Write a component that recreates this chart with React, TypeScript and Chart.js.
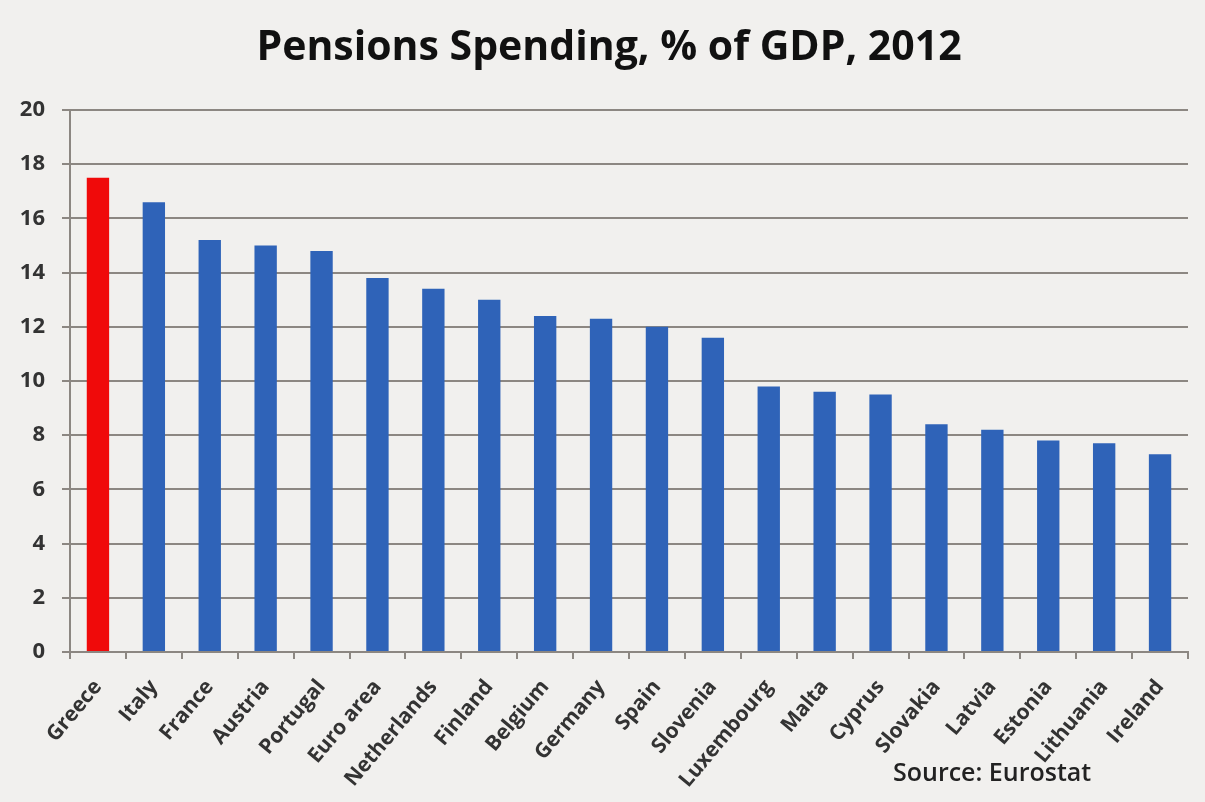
import React, { useEffect, useRef } from "react";
import { Chart, registerables } from "chart.js";

Chart.register(...registerables);

const countries = [
  "Greece", "Italy", "France", "Austria", "Portugal", "Euro area", "Netherlands",
  "Finland", "Belgium", "Germany", "Spain", "Slovenia", "Luxembourg", "Malta",
  "Cyprus", "Slovakia", "Latvia", "Estonia", "Lithuania", "Ireland",
];
const pensionSpending = [
  17.5, 16.6, 15.2, 15.0, 14.8, 13.8, 13.4, 13.0, 12.4, 12.3, 12.0, 11.6, 9.8, 9.6,
  9.5, 8.4, 8.2, 7.8, 7.7, 7.3,
];
const highlighted = "Greece";
const titleText = "Pensions Spending, % of GDP, 2012";
const sourceText = "Source: Eurostat";

const BG = "#f1f0ee";
const FONT = "'Open Sans', 'Noto Sans', sans-serif";
const AXIS = "#8c8782";

export default function App() {
  const ref = useRef<HTMLCanvasElement | null>(null);

  useEffect(() => {
    document.body.style.margin = "0";
    document.body.style.background = BG;
    if (!ref.current) return;
    const chart = new Chart(ref.current, {
      type: "bar",
      data: {
        labels: countries,
        datasets: [
          {
            data: pensionSpending,
            backgroundColor: countries.map((c) => (c === highlighted ? "#f00a0a" : "#2f63b8")),
            borderWidth: 0,
            barPercentage: 0.4,
            categoryPercentage: 1,
          },
        ],
      },
      options: {
        animation: false,
        responsive: false,
        maintainAspectRatio: false,
        layout: { padding: { left: 0, right: 17, top: 110, bottom: 0 } },
        plugins: {
          legend: { display: false },
          tooltip: { enabled: false },
          title: { display: false },
        },
        scales: {
          y: {
            min: 0,
            max: 20,
            afterFit: (scale: any) => {
              scale.width = 70;
            },
            ticks: {
              stepSize: 2,
              color: "#333333",
              font: { family: FONT, size: 22, weight: "bold" },
              padding: 17,
            },
            grid: {
              color: AXIS,
              lineWidth: 2,
              tickLength: 8,
              drawTicks: true,
            },
            border: { display: true, color: AXIS, width: 2 },
          },
          x: {
            offset: true,
            afterFit: (scale: any) => {
              scale.height = 150;
            },
            ticks: {
              color: "#333333",
              font: { family: FONT, size: 21, weight: "bold" },
              minRotation: 50,
              maxRotation: 50,
              autoSkip: false,
              padding: 16,
            },
            grid: {
              offset: true,
              drawOnChartArea: false,
              drawTicks: true,
              tickLength: 7,
              color: AXIS,
              lineWidth: 2,
            },
            border: { display: true, color: AXIS, width: 2 },
          },
        },
      },
    });
    return () => chart.destroy();
  }, []);

  return (
    <div style={{ position: "relative", width: 1205, height: 802, background: BG }}>
      <canvas ref={ref} width={1205} height={802} style={{ display: "block" }} />
      <div
        style={{
          position: "absolute",
          left: 0,
          width: 1218,
          top: 24,
          textAlign: "center",
          fontFamily: FONT,
          fontSize: 41,
          lineHeight: 1,
          fontWeight: 700,
          color: "#111111",
          whiteSpace: "nowrap",
        }}
      >
        {titleText}
      </div>
      <div
        style={{
          position: "absolute",
          left: 893,
          top: 759,
          fontFamily: FONT,
          fontSize: 25,
          lineHeight: 1,
          fontWeight: 600,
          color: "#222222",
          whiteSpace: "nowrap",
        }}
      >
        {sourceText}
      </div>
    </div>
  );
}
